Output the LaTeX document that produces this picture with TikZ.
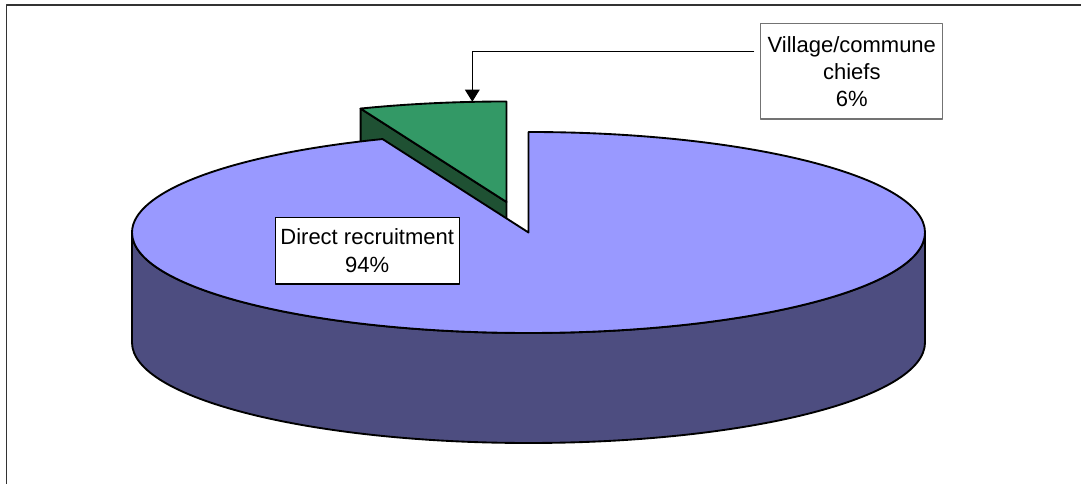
\documentclass[tikz,border=0pt]{standalone}
\usepackage{fontspec}
\setmainfont{Liberation Sans}
\usetikzlibrary{arrows.meta}
\definecolor{topblue}{HTML}{9999FF}
\definecolor{sideblue}{HTML}{4D4D80}
\definecolor{topgreen}{HTML}{339966}
\definecolor{sidegreen}{HTML}{1F5133}
\begin{document}
\begin{tikzpicture}[x=0.75pt,y=0.75pt,line join=round,
  slice/.style={draw=black,line width=1.4pt},
  lbl/.style={fill=white,align=center,inner sep=0pt,font=\fontsize{16.5}{20.5}\selectfont},
  frameline/.style={draw=black!80,line width=1.4pt},
  callout/.style={draw=black,line width=0.8pt,-{Triangle[length=9pt,width=11pt]}}]
\useasboundingbox (0,0) rectangle (1081,484);
% frame
\draw[frameline] (6.5,-5) -- (6.5,479) -- (1090,479);
% exploded green slice
\path[slice,fill=sidegreen] (506.5,282) -- (360.6,375.4) -- (360.6,265.4) -- (506.5,172) -- cycle;
\path[slice,fill=topgreen] (506.5,282) -- (506.5,382.5) arc[start angle=90,end angle=111.6,x radius=396.5,y radius=100.5] -- cycle;
% main slice side
\path[slice,fill=sideblue] (132,251.5) -- (132,141.5) arc[start angle=180,end angle=360,x radius=396.5,y radius=100.5] -- (925,251.5) arc[start angle=0,end angle=-180,x radius=396.5,y radius=100.5] -- cycle;
% main slice top
\path[slice,fill=topblue] (528.5,251.5) -- (528.5,352) arc[start angle=90,end angle=-248.4,x radius=396.5,y radius=100.5] -- cycle;
% labels
\node[lbl,draw=black,line width=0.8pt,minimum width=138.2pt,minimum height=50pt] (dbox) at (367.2,233.3) {Direct recruitment\\94\%};
\node[lbl,draw=black!55,line width=0.8pt,minimum width=136.5pt,minimum height=71.3pt] (vbox) at (851.8,412.5) {Village/commune\\chiefs\\6\%};
\coordinate (tip) at (472.3,382.3);
\draw[callout] ([xshift=-4.5pt,yshift=14.8pt]vbox.west) -| (tip);
\end{tikzpicture}
\end{document}
